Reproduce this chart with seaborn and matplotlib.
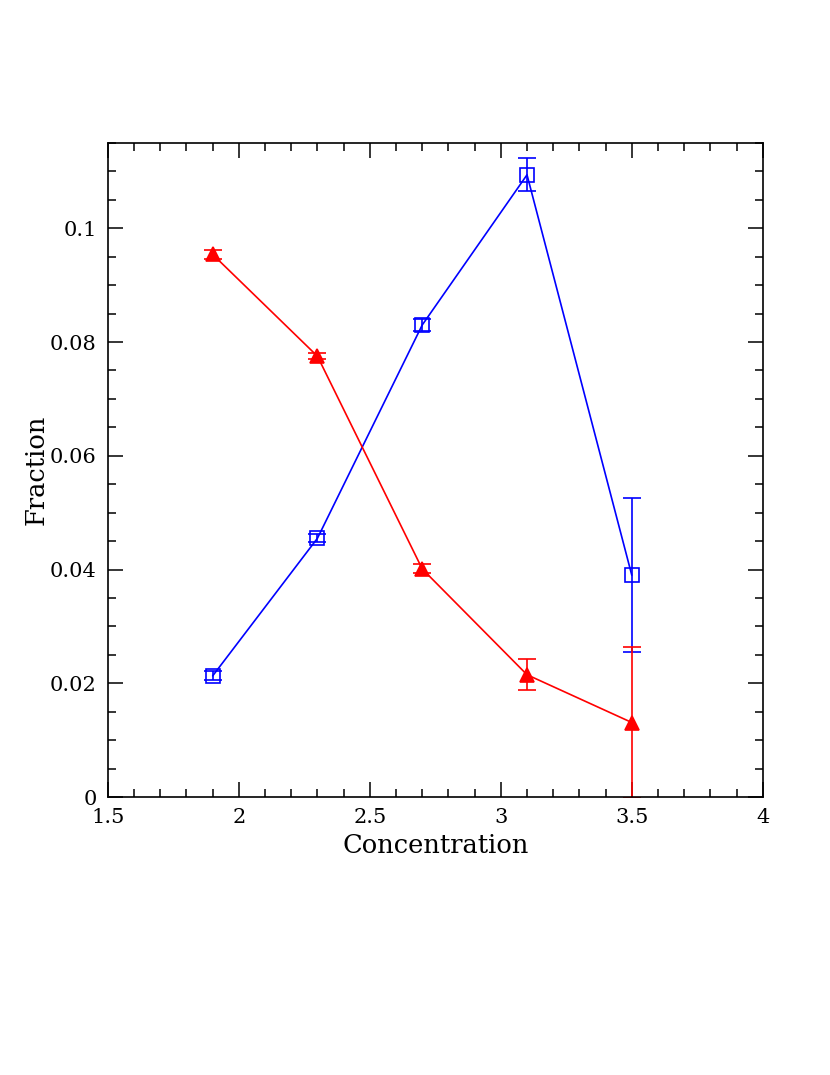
import pandas as pd
import numpy as np
import matplotlib
matplotlib.use('Agg')
import matplotlib.pyplot as plt
from matplotlib.ticker import MultipleLocator
import seaborn as sns

concentration = [1.9, 2.3, 2.7, 3.1, 3.5]
blue_frac = [0.0213, 0.0455, 0.0830, 0.1094, 0.0390]
blue_err = [0.0008, 0.0007, 0.0010, 0.0029, 0.0135]
red_frac = [0.0954, 0.0775, 0.0401, 0.0215, 0.0131]
red_err = [0.0008, 0.0005, 0.0008, 0.0027, 0.0132]

df = pd.DataFrame({
    'Concentration': concentration * 2,
    'Fraction': blue_frac + red_frac,
    'err': blue_err + red_err,
    'group': ['blue'] * 5 + ['red'] * 5,
})

sns.set_style('ticks')
plt.rcParams['font.family'] = ['DejaVu Serif']

fig = plt.figure(figsize=(8.3, 10.75), dpi=100)
ax = fig.add_axes([0.130, 0.2586, 0.789, 0.6084])

colors = {'blue': '#0000ff', 'red': '#ff0000'}
for g, mk, fill in [('blue', 's', 'none'), ('red', '^', '#ff0000')]:
    sub = df[df['group'] == g]
    ax.errorbar(sub['Concentration'], sub['Fraction'], yerr=sub['err'],
                fmt='none', ecolor=colors[g], elinewidth=1.2, capsize=6.5,
                capthick=1.2, zorder=2)
    sns.lineplot(data=sub, x='Concentration', y='Fraction', color=colors[g],
                 marker=mk, markersize=9.5, markerfacecolor=fill,
                 markeredgecolor=colors[g], markeredgewidth=1.2,
                 linewidth=1.2, ax=ax, zorder=3)

ax.set_xlim(1.5, 4)
ax.set_ylim(0, 0.115)
ax.xaxis.set_major_locator(MultipleLocator(0.5))
ax.xaxis.set_minor_locator(MultipleLocator(0.1))
ax.yaxis.set_major_locator(MultipleLocator(0.02))
ax.yaxis.set_minor_locator(MultipleLocator(0.005))
ax.xaxis.set_major_formatter(plt.FuncFormatter(lambda v, p: f'{v:g}'))
ax.yaxis.set_major_formatter(plt.FuncFormatter(lambda v, p: f'{v:g}'))
ax.tick_params(which='both', direction='in', top=True, right=True,
               width=1.1, color='black', labelcolor='black', labelsize=15)
ax.tick_params(which='major', length=10.5, pad=8)
ax.tick_params(which='minor', length=5.5)
for s in ax.spines.values():
    s.set_linewidth(1.2)
    s.set_color('black')
ax.set_xlabel('Concentration', fontsize=18.5, color='black', labelpad=4)
ax.set_ylabel('Fraction', fontsize=18.5, color='black', labelpad=1)

fig.savefig('out.png', dpi=100)
